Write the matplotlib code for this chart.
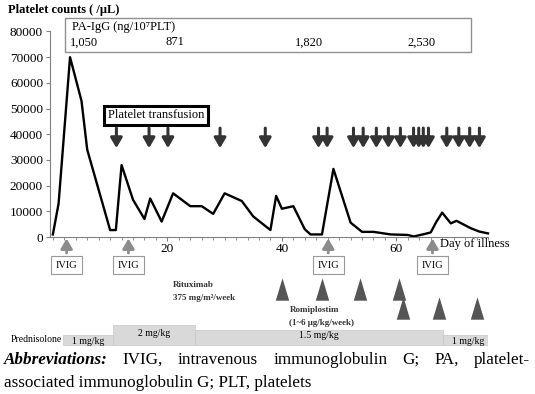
import matplotlib.pyplot as plt
import numpy as np

plt.rcParams['font.family'] = ['Liberation Serif', 'DejaVu Serif']

# platelet counts per day of illness
days = [0, 1, 3, 5, 6, 10, 11, 12, 14, 16, 17, 19, 21, 24, 26, 28, 30, 33, 35, 38, 39, 40,
        42, 44, 45, 47, 49, 52, 54, 56, 59, 62, 63, 65, 66, 67, 68, 69.5, 70.5, 73, 74.5, 76]
plt_counts = [1000, 13000, 70000, 53000, 34000, 2700, 2700, 28000, 14500, 7000, 15000, 6000,
              17000, 12000, 12000, 9000, 17000, 14000, 8000, 2700, 16000, 11000, 12000, 3000,
              1000, 1000, 26500, 5600, 2000, 2000, 1000, 800, 200, 1200, 1800, 6000, 9500,
              5300, 6300, 3400, 2100, 1400]

transfusion_days = [11.1, 16.8, 20.1, 29.2, 37.1, 46.4, 47.9, 52.5, 54.2, 56.5, 58.6, 60.7,
                    63.0, 63.9, 64.7, 65.6, 68.8, 70.9, 72.8, 74.5]
ivig_days = [2.4, 13.2, 48.1, 66.3]
rituximab_days = [40.0, 47.0, 53.7, 60.4]
romiplostim_days = [61.2, 67.5, 74.1]

pa_igg_days = [5.4, 21.3, 44.8, 64.3]
pa_igg_vals = ['1,050', '871', '1,820', '2,530']

pred_start = [1.7, 10.5, 24.8, 68.2]
pred_end = [10.5, 24.8, 68.2, 76.7]
pred_dose = [1, 2, 1.5, 1]
pred_labels = ['1 mg/kg', '2 mg/kg', '1.5 mg/kg', '1 mg/kg']

W, H = 535, 394
fig = plt.figure(figsize=(W / 100, H / 100), dpi=100)

def fx(px):
    return px / W

def fy(py):
    return 1 - py / H

# main chart
ax = fig.add_axes([fx(50), fy(237), fx(438), fy(31.5) - fy(237)])
ax.plot(days, plt_counts, color='black', lw=1.7, clip_on=False)
ax.set_xlim(-0.5, 76)
ax.set_ylim(0, 80000)
ax.set_yticks(np.arange(0, 80001, 10000))
ax.set_xticks([20, 40, 60])
ax.set_xticks(np.arange(0, 77, 2), minor=True)
for s in ['top', 'right']:
    ax.spines[s].set_visible(False)
for s in ['left', 'bottom']:
    ax.spines[s].set_color('#808080')
ax.tick_params(colors='#808080', labelcolor='black', labelsize=9.5, length=3)
ax.tick_params(which='minor', colors='#808080', length=2)
ax.tick_params(axis='x', pad=1)
ax.tick_params(axis='y', pad=2)
ax.patch.set_alpha(0)

fig.text(fx(8), fy(10), 'Platelet counts ( /μL)', fontsize=9, fontweight='bold', va='center')
ax.text(67.7, -2700, 'Day of illness', fontsize=9, va='center', ha='left')

# PA-IgG box
ax.add_patch(plt.Rectangle((2.1, 72000), 71.0, 13250, fill=False, ec='#909090', lw=1, clip_on=False))
ax.text(3.3, 81800, 'PA-IgG (ng/10⁷PLT)', fontsize=9, va='center')
for d, v in zip(pa_igg_days, pa_igg_vals):
    ax.text(d, 75800, v, fontsize=9, va='center', ha='center')

# platelet transfusion
ax.text(18.0, 47300, 'Platelet transfusion', fontsize=9, ha='center', va='center',
        bbox=dict(boxstyle='square,pad=0.3', fc='white', ec='black', lw=2.2))
for d in transfusion_days:
    ax.annotate('', xy=(d, 34600), xytext=(d, 42400),
                arrowprops=dict(arrowstyle='-|>,head_width=0.35,head_length=0.6',
                                lw=2.2, color='#333333', mutation_scale=10,
                                shrinkA=0, shrinkB=0))

# treatment axes below (y in pixel rows)
ax2 = fig.add_axes([fx(50), fy(350), fx(438), fy(238) - fy(350)])
ax2.set_xlim(-0.5, 76)
ax2.set_ylim(350, 238)
ax2.axis('off')

for d in ivig_days:
    ax2.annotate('', xy=(d, 238.5), xytext=(d, 253),
                 arrowprops=dict(arrowstyle='-|>,head_width=0.35,head_length=0.6',
                                 lw=2, color='#8c8c8c', mutation_scale=10,
                                 shrinkA=0, shrinkB=0))
    ax2.text(d, 265, 'IVIG', fontsize=7.5, ha='center', va='center',
             bbox=dict(boxstyle='square,pad=0.45', fc='white', ec='#999999', lw=0.8))

tri = [(-0.6, -1), (0.6, -1), (0, 1)]
ax2.scatter(rituximab_days, [289] * len(rituximab_days), marker=tri, s=260,
            color='#555555', lw=0)
ax2.scatter(romiplostim_days, [308] * len(romiplostim_days), marker=tri, s=260,
            color='#555555', lw=0)
ax2.text(21.0, 285, 'Rituximab', fontsize=6.5, fontweight='bold', color='#333333', va='center')
ax2.text(21.0, 298, '375 mg/m²/week', fontsize=6.5, fontweight='bold', color='#333333', va='center')
ax2.text(45.8, 310, 'Romiplostim', fontsize=6.5, fontweight='bold', color='#333333',
         va='center', ha='center')
ax2.text(47.0, 323, '(1~6 μg/kg/week)', fontsize=6.5, fontweight='bold', color='#333333',
         va='center', ha='center')

# prednisolone bars, height proportional to dose
widths = np.array(pred_end) - np.array(pred_start)
heights = [-10 * d for d in pred_dose]
ax2.bar(pred_start, heights, width=widths, bottom=345, align='edge', color='#d9d9d9',
        ec='#c8c8c8', lw=0.5)
for s, w, h, lab in zip(pred_start, widths, heights, pred_labels):
    ax2.text(s + w / 2, 345 + h / 2 + (1 if h > -12 else -2), lab, fontsize=7,
             ha='center', va='center')
ax2.text(1.5, 339, 'Prednisolone', fontsize=7, ha='right', va='center')

# caption, first line justified between 4 and 530 px
cap_size = 12.3
words = ['Abbreviations:', 'IVIG,', 'intravenous', 'immunoglobulin', 'G;', 'PA,', 'platelet-']
texts = []
for i, w in enumerate(words):
    kw = dict(fontweight='bold', style='italic') if i == 0 else {}
    texts.append(fig.text(0, fy(360), w, fontsize=cap_size, va='center', **kw))
fig.canvas.draw()
r = fig.canvas.get_renderer()
wid = [t.get_window_extent(r).width for t in texts]
gap = (530 - 4 - sum(wid)) / (len(words) - 1)
x = 4
for t, w in zip(texts, wid):
    t.set_x(fx(x))
    x += w + gap
fig.text(fx(4), fy(383), 'associated immunoglobulin G; PLT, platelets', fontsize=cap_size,
         va='center')

fig.savefig('out.png', dpi=100)
